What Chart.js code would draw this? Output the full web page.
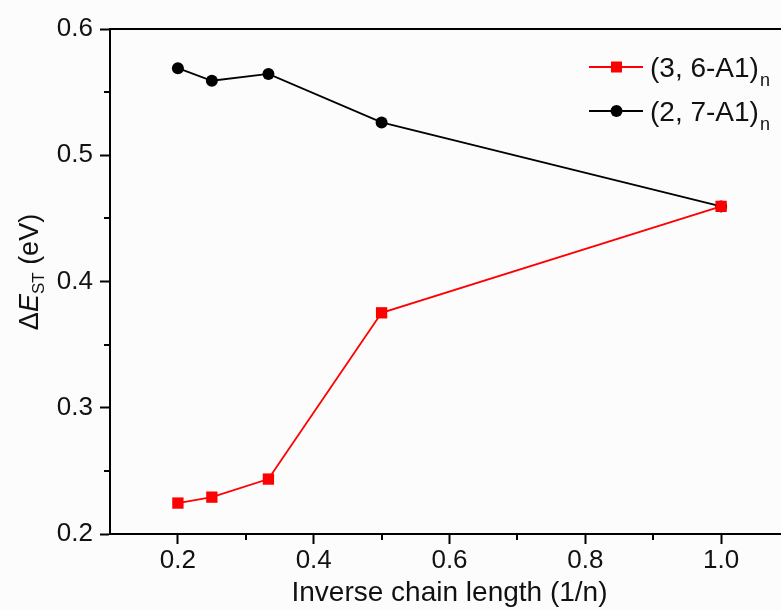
<!DOCTYPE html>
<html>
<head>
<meta charset="utf-8">
<script src="https://cdn.jsdelivr.net/npm/chart.js@4/dist/chart.umd.min.js"></script>
<style>
  html, body { margin: 0; padding: 0; background: #fcfcfc; overflow: hidden; width: 781px; height: 610px; }
  #wrap { width: 800px; height: 610px; }
</style>
</head>
<body>
<div id="wrap"><canvas id="c" width="800" height="610"></canvas></div>
<script>
// ---- data ----
const inverseLength = [0.2, 0.25, 0.3333, 0.5, 1.0];
const series36 = [0.2245, 0.2292, 0.2435, 0.3752, 0.4595];
const series27 = [0.569, 0.559, 0.5644, 0.526, 0.4595];
const seriesNames = ['(3, 6-A1)', '(2, 7-A1)'];
const xMajorTicks = [0.2, 0.4, 0.6, 0.8, 1.0];
const xMinorTicks = [0.3, 0.5, 0.7, 0.9];
const yMajorTicks = [0.2, 0.3, 0.4, 0.5, 0.6];
const yMinorTicks = [0.25, 0.35, 0.45, 0.55];

const FONT = '"Liberation Sans", Arial, Helvetica, sans-serif';
const RED = '#ff0000';
const BLACK = '#000000';

const toPts = (ys) => ys.map((y, i) => ({ x: inverseLength[i], y }));

const decor = {
  id: 'decor',
  afterDraw(chart) {
    const ctx = chart.ctx;
    const a = chart.chartArea;
    const xs = chart.scales.x, ys = chart.scales.y;
    ctx.save();
    // top frame line
    ctx.strokeStyle = BLACK; ctx.lineWidth = 2;
    ctx.beginPath(); ctx.moveTo(a.left - 1, a.top); ctx.lineTo(a.right, a.top); ctx.stroke();
    // minor ticks
    ctx.lineWidth = 2;
    xMinorTicks.forEach(v => {
      const px = Math.round(xs.getPixelForValue(v));
      ctx.beginPath(); ctx.moveTo(px, a.bottom); ctx.lineTo(px, a.bottom + 6); ctx.stroke();
    });
    yMinorTicks.forEach(v => {
      const py = Math.round(ys.getPixelForValue(v));
      ctx.beginPath(); ctx.moveTo(a.left, py); ctx.lineTo(a.left - 6, py); ctx.stroke();
    });

    ctx.fillStyle = '#111';
    // x title
    ctx.font = '28px ' + FONT;
    ctx.textAlign = 'center'; ctx.textBaseline = 'alphabetic';
    ctx.fillText('Inverse chain length (1/n)', (a.left + 789) / 2, 601);

    // y title (rotated, rich text)
    ctx.save();
    ctx.translate(38, 272);
    ctx.rotate(-Math.PI / 2);
    const big = '27px ' + FONT, ital = 'italic 27px ' + FONT, small = '17px ' + FONT;
    const parts = [
      { t: '\u0394', f: big, dy: 0 },
      { t: 'E', f: ital, dy: 0 },
      { t: 'ST', f: small, dy: 6 },
      { t: ' (eV)', f: big, dy: 0 }
    ];
    let total = 0;
    parts.forEach(p => { ctx.font = p.f; p.w = ctx.measureText(p.t).width; total += p.w; });
    let x0 = -total / 2;
    ctx.textAlign = 'left';
    parts.forEach(p => { ctx.font = p.f; ctx.fillText(p.t, x0, p.dy); x0 += p.w; });
    ctx.restore();

    // legend
    const entries = [
      { name: seriesNames[0], color: RED, style: 'rect', y: 67 },
      { name: seriesNames[1], color: BLACK, style: 'circle', y: 111 }
    ];
    entries.forEach(e => {
      ctx.strokeStyle = e.color; ctx.fillStyle = e.color; ctx.lineWidth = 1.8;
      ctx.beginPath(); ctx.moveTo(589, e.y); ctx.lineTo(643, e.y); ctx.stroke();
      if (e.style === 'rect') {
        ctx.fillRect(616.5 - 5.5, e.y - 5.5, 11, 11);
      } else {
        ctx.beginPath(); ctx.arc(616.5, e.y, 6, 0, Math.PI * 2); ctx.fill();
      }
      ctx.fillStyle = '#111';
      ctx.textAlign = 'left'; ctx.textBaseline = 'alphabetic';
      ctx.font = '28px ' + FONT;
      ctx.fillText(e.name, 650, e.y + 10);
      const w = ctx.measureText(e.name).width;
      ctx.font = '18px ' + FONT;
      ctx.fillText('n', 650 + w + 1, e.y + 19);
    });
    ctx.restore();
  }
};

new Chart(document.getElementById('c'), {
  type: 'scatter',
  data: {
    datasets: [
      {
        label: seriesNames[0],
        data: toPts(series36),
        showLine: true,
        borderColor: RED,
        backgroundColor: RED,
        borderWidth: 1.8,
        pointStyle: 'rect',
        pointRadius: 8,
        pointBorderWidth: 0,
        pointHoverRadius: 8,
        tension: 0
      },
      {
        label: seriesNames[1],
        data: toPts(series27),
        showLine: true,
        borderColor: BLACK,
        backgroundColor: BLACK,
        borderWidth: 1.8,
        pointStyle: 'circle',
        pointRadius: 6,
        pointBorderWidth: 0,
        pointHoverRadius: 6,
        tension: 0
      }
    ]
  },
  options: {
    responsive: false,
    animation: false,
    events: [],
    layout: { padding: { left: 0, right: 11, top: 29, bottom: 0 } },
    plugins: { legend: { display: false }, tooltip: { enabled: false }, title: { display: false } },
    scales: {
      x: {
        type: 'linear',
        min: 0.1, max: 1.1,
        afterBuildTicks: (s) => { s.ticks = xMajorTicks.map(v => ({ value: v })); },
        afterFit: (s) => { s.height = 76; },
        border: { display: true, color: BLACK, width: 2 },
        grid: { drawOnChartArea: false, drawTicks: true, tickLength: 10, tickWidth: 2, tickColor: BLACK },
        ticks: {
          color: '#111', padding: 1, maxRotation: 0, autoSkip: false,
          font: { family: FONT, size: 26 },
          callback: (v) => Number(v).toFixed(1)
        },
        title: { display: false }
      },
      y: {
        type: 'linear',
        min: 0.2, max: 0.6,
        afterBuildTicks: (s) => { s.ticks = yMajorTicks.map(v => ({ value: v })); },
        afterFit: (s) => { s.width = 110; },
        border: { display: true, color: BLACK, width: 2 },
        grid: { drawOnChartArea: false, drawTicks: true, tickLength: 10, tickWidth: 2, tickColor: BLACK },
        ticks: {
          color: '#111', padding: 7, autoSkip: false,
          font: { family: FONT, size: 26 },
          callback: (v) => Number(v).toFixed(1)
        },
        title: { display: false }
      }
    }
  },
  plugins: [decor]
});
</script>
</body>
</html>
